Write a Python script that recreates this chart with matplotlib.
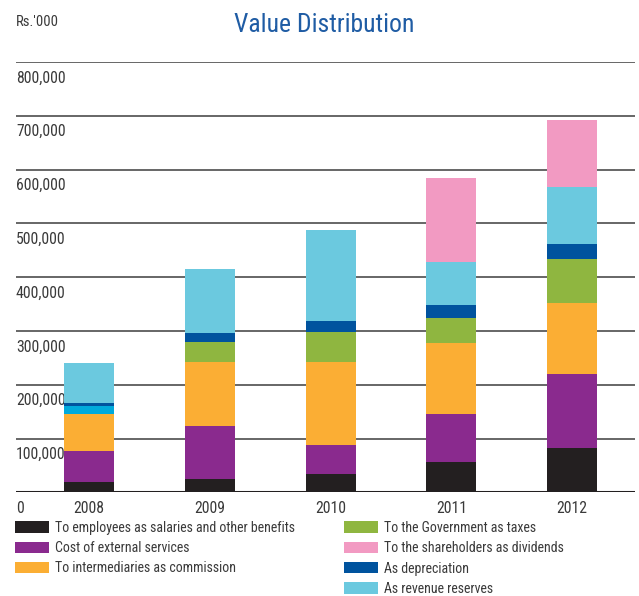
import numpy as np
import matplotlib
matplotlib.use("Agg")
import matplotlib.pyplot as plt

plt.rcParams['font.family'] = ['Roboto Condensed', 'Liberation Sans Narrow', 'Lato', 'DejaVu Sans']

# Valores (Rs.'000)
years = ['2008', '2009', '2010', '2011', '2012']
salaries = [19500, 24700, 34000, 56400, 82400]
external = [57500, 98600, 54000, 89300, 137700]
commission = [68600, 119100, 154400, 132100, 132100]
taxes = [15400, 37200, 55800, 46500, 81800]
depreciation = [5000, 16800, 20500, 24200, 28000]
reserves = [74000, 119000, 169300, 80500, 106000]
dividends = [0, 0, 0, 156000, 124700]
yticks = [0, 100000, 200000, 300000, 400000, 500000, 600000, 700000, 800000]

series = [
    (salaries, 'To employees as salaries and other benefits', '#231f20'),
    (external, 'Cost of external services', '#8a2a8e'),
    (commission, 'To intermediaries as commission', '#fbae34'),
    (taxes, 'To the Government as taxes', '#8fb640'),
    (depreciation, 'As depreciation', '#00539e'),
    (reserves, 'As revenue reserves', '#6bc9df'),
    (dividends, 'To the shareholders as dividends', '#f29ac2'),
]

fig = plt.figure(figsize=(6.39, 5.96), dpi=100)
ax = fig.add_axes([16/639, 1 - 492.3/596, 619/639, (492.3 - 62)/596])

x = np.arange(len(years))
bottom = np.zeros(len(years))
handles = {}
for vals, label, color in series:
    bars = ax.bar(x, vals, 0.414, bottom=bottom, color=color, label=label, zorder=3)
    handles[label] = bars
    bottom += np.array(vals)

# 2008: faixa de impostos em azul claro no original
handles['To the Government as taxes'].patches[0].set_facecolor('#00aadb')

ax.set_xlim(-0.605, 4.52)
ax.set_ylim(0, 800000)

# Grade horizontal
for t in yticks[1:]:
    ax.axhline(t, color='#666666', lw=1.4, zorder=1)
ax.axhline(0, color='#231f20', lw=2.2, zorder=4)

# Rótulos do eixo y abaixo das linhas
for t in yticks:
    ax.annotate(f'{t:,}', xy=(0, t), xycoords=('axes fraction', 'data'),
                xytext=(0, -16), textcoords='offset pixels',
                ha='left', va='center', fontsize=11.3, color='#3a3a3a', zorder=2)

for s in ax.spines.values():
    s.set_visible(False)
ax.set_yticks([])
ax.set_xticks(x, years)
ax.tick_params(axis='x', length=0, pad=6, labelsize=11.3, labelcolor='#3a3a3a')

fig.text(324/639, 1 - 25/596, 'Value Distribution', ha='center', va='center',
         fontsize=18.5, color='#1f5ca4')
fig.text(16/639, 1 - 22/596, "Rs.'000", ha='left', va='center',
         fontsize=10.5, color='#3a3a3a')

col1 = ['To employees as salaries and other benefits', 'Cost of external services',
        'To intermediaries as commission']
col2 = ['To the Government as taxes', 'To the shareholders as dividends',
        'As depreciation', 'As revenue reserves']
leg_kw = dict(frameon=False, fontsize=10, handlelength=2.45, handleheight=0.9,
              handletextpad=0.4, labelspacing=0.45, borderpad=0, borderaxespad=0,
              loc='upper left', labelcolor='#3a3a3a')
fig.legend([handles[l].patches[-1] for l in col1], col1,
           bbox_to_anchor=(15/639, 1 - 521/596), **leg_kw)
fig.legend([handles[l].patches[-1] for l in col2], col2,
           bbox_to_anchor=(344/639, 1 - 521/596), **leg_kw)

fig.savefig('out.png', dpi=100)
